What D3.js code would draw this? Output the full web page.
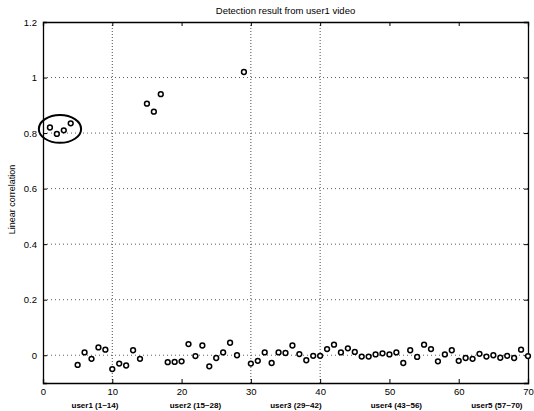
<!DOCTYPE html>
<html>
<head>
<meta charset="utf-8">
<script src="https://cdn.jsdelivr.net/npm/d3@7"></script>
<style>
  body { margin: 0; background: #fff; }
  text { font-family: "Liberation Sans", Arial, sans-serif; fill: #000; }
</style>
</head>
<body>
<div id="chart"></div>
<script>
// sample index 1..70 and linear correlation
var sampleIdx = d3.range(1, 71);
var correlation = [
  0.82, 0.797, 0.81, 0.835, -0.035, 0.01, -0.013, 0.028, 0.02, -0.05,
  -0.03, -0.037, 0.018, -0.013, 0.906, 0.877, 0.94, -0.025, -0.024, -0.022,
  0.04, -0.003, 0.035, -0.04, -0.01, 0.01, 0.045, 0.0, 1.02, -0.03,
  -0.02, 0.01, -0.028, 0.01, 0.008, 0.035, 0.004, -0.018, -0.002, -0.002,
  0.022, 0.038, 0.01, 0.025, 0.012, -0.005, -0.005, 0.003, 0.007, 0.003,
  0.01, -0.028, 0.018, -0.006, 0.038, 0.022, -0.022, 0.003, 0.018, -0.02,
  -0.01, -0.013, 0.005, -0.005, 0.0, -0.009, -0.002, -0.01, 0.02, -0.003
];
var xTicks = [0, 10, 20, 30, 40, 50, 60, 70];
var yTicks = [0, 0.2, 0.4, 0.6, 0.8, 1, 1.2];
var yGrid = [0, 0.2, 0.4, 0.6, 0.8, 1];
var xGrid = [10, 30, 40];
var userLabels = ["user1 (1~14)", "user2 (15~28)", "user3 (29~42)", "user4 (43~56)", "user5 (57~70)"];
var userLabelPos = [7.5, 22, 36.5, 51, 65.5];

var margin = { left: 43, right: 6, top: 22, bottom: 28 };
var width = 534 - margin.left - margin.right,
    height = 411 - margin.top - margin.bottom;

var x = d3.scaleLinear().domain([0, 70]).range([0, width]);
var y = d3.scaleLinear().domain([-0.1, 1.2]).range([height, 0]);

var svg = d3.select("#chart")
  .append("svg")
    .attr("width", 534)
    .attr("height", 411)
  .append("g")
    .attr("transform", "translate(" + margin.left + "," + margin.top + ")");

// dotted grid
svg.selectAll(".hgrid").data(yGrid).enter()
  .append("line")
  .attr("x1", 0).attr("x2", width)
  .attr("y1", function(d){ return y(d); })
  .attr("y2", function(d){ return y(d); })
  .attr("stroke", "#333").attr("stroke-width", 0.8)
  .attr("stroke-dasharray", "1,3");

svg.selectAll(".vgrid").data(xGrid).enter()
  .append("line")
  .attr("y1", 0).attr("y2", height)
  .attr("x1", function(d){ return x(d); })
  .attr("x2", function(d){ return x(d); })
  .attr("stroke", "#222").attr("stroke-width", 0.8)
  .attr("stroke-dasharray", "1,2");

// axes, ticks pointing inward like matlab
var xAxis = svg.append("g")
  .attr("transform", "translate(0," + height + ")")
  .call(d3.axisBottom(x).tickValues(xTicks).tickSize(-4).tickPadding(5).tickFormat(d3.format("d")));
var yAxis = svg.append("g")
  .call(d3.axisLeft(y).tickValues(yTicks).tickSize(-4).tickPadding(6).tickFormat(function(d){ return d3.format("")(+d.toFixed(1)); }));
svg.append("g")
  .call(d3.axisTop(x).tickValues(xTicks).tickSize(-4).tickFormat(""));
svg.append("g")
  .attr("transform", "translate(" + width + ",0)")
  .call(d3.axisRight(y).tickValues(yTicks).tickSize(-4).tickFormat(""));

svg.selectAll(".domain").attr("stroke", "#000").attr("stroke-width", 1.3);
svg.selectAll(".tick line").attr("stroke", "#000");
svg.selectAll(".tick text").attr("font-size", "9.5px").style("fill", "#000");

// markers
svg.selectAll("circle.pt").data(correlation).enter()
  .append("circle")
  .attr("class", "pt")
  .attr("cx", function(d, i){ return x(sampleIdx[i]); })
  .attr("cy", function(d){ return y(d); })
  .attr("r", 2.4)
  .attr("fill", "#fff")
  .attr("stroke", "#000")
  .attr("stroke-width", 1.5);

// hand drawn ellipse round user1's own samples
svg.append("ellipse")
  .attr("cx", x(2.45))
  .attr("cy", y(0.815))
  .attr("rx", x(3.05) - x(0))
  .attr("ry", y(0) - y(0.05))
  .attr("fill", "none")
  .attr("stroke", "#000")
  .attr("stroke-width", 2);

// title and labels
svg.append("text")
  .attr("x", width / 2)
  .attr("y", -8)
  .attr("text-anchor", "middle")
  .attr("font-size", "9.5px")
  .text("Detection result from user1 video");

svg.append("text")
  .attr("transform", "rotate(-90)")
  .attr("x", -(height / 2) + 3)
  .attr("y", -28)
  .attr("text-anchor", "middle")
  .attr("font-size", "9px")
  .text("Linear correlation");

svg.selectAll(".ulabel").data(userLabels).enter()
  .append("text")
  .attr("x", function(d, i){ return x(userLabelPos[i]); })
  .attr("y", height + 25)
  .attr("text-anchor", "middle")
  .attr("font-size", "8px")
  .attr("font-weight", "bold")
  .text(function(d){ return d; });
</script>
</body>
</html>
